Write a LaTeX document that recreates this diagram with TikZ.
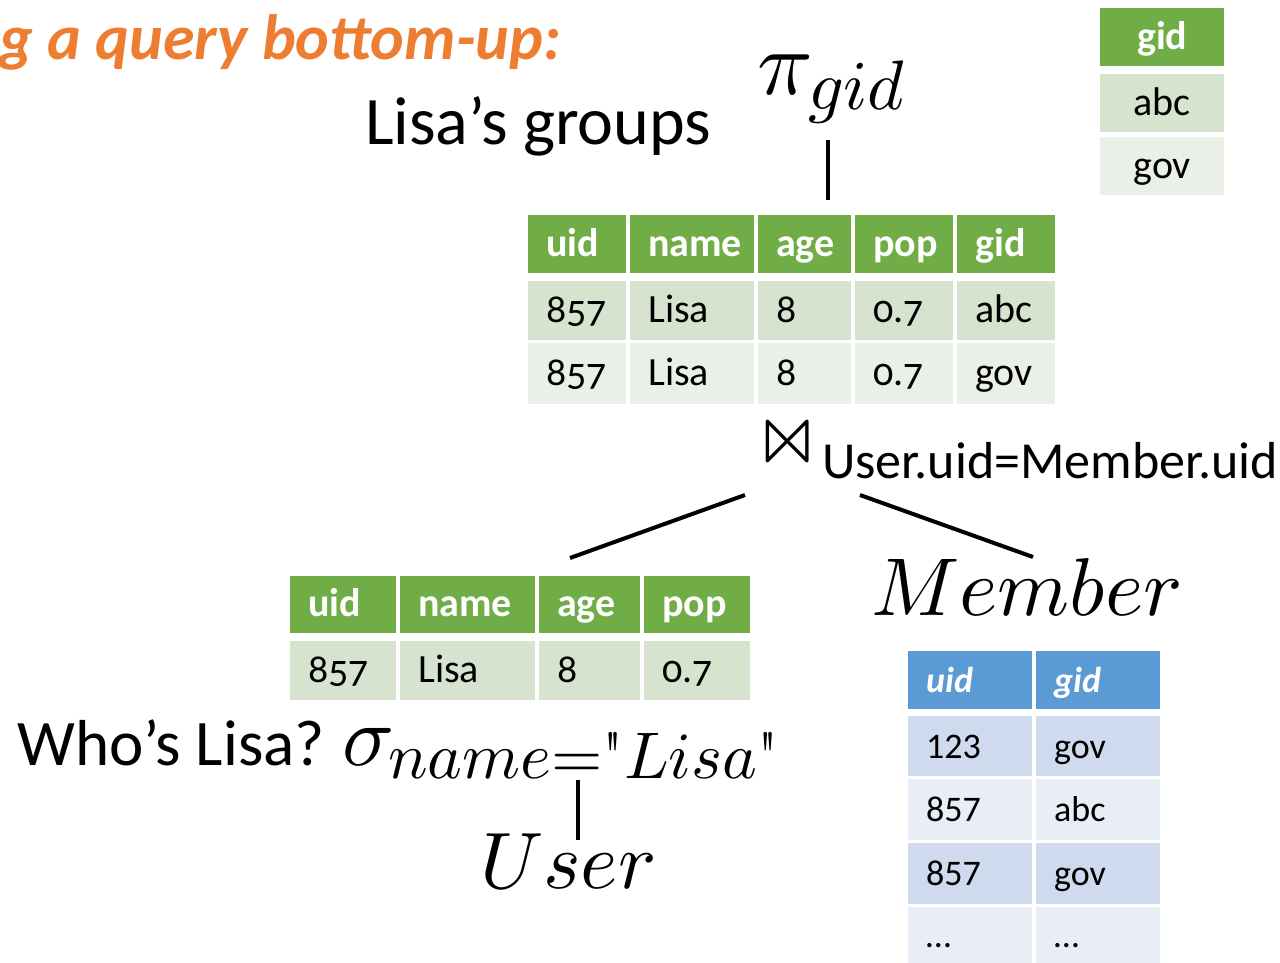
\documentclass[tikz,border=0pt]{standalone}
\usepackage{fontspec}
\usepackage{unicode-math}
\setmainfont{Carlito}
\setmathfont{Latin Modern Math}
\newfontfamily\oldfont{Carlito}[Numbers=OldStyle]
\newfontfamily\lmr{Latin Modern Roman}
\definecolor{ttl}{HTML}{ED7D31}
\definecolor{ghead}{HTML}{70AD47}
\definecolor{gone}{HTML}{D5E3CF}
\definecolor{gtwo}{HTML}{EAF0E8}
\definecolor{bhead}{HTML}{5B9BD5}
\definecolor{bone}{HTML}{CFDAEE}
\definecolor{btwo}{HTML}{E9EDF6}
\tikzset{
  cellbox/.style={anchor=north west, inner sep=0pt, draw=none},
  celltxt/.style={anchor=west, inner sep=0pt, text height=32pt, text depth=8pt},
  ghdr/.style={celltxt, text=white, font=\oldfont\fontsize{40}{44}\selectfont\bfseries},
  gdat/.style={celltxt, text=black, font=\oldfont\fontsize{40}{44}\selectfont},
  bhdr/.style={celltxt, text=white, font=\fontsize{36}{40}\selectfont\bfseries\itshape},
  bdat/.style={celltxt, text=black, font=\fontsize{36}{40}\selectfont},
  lbl/.style={anchor=base west, inner sep=0pt},
  conn/.style={line width=4pt, black},
}
% name, x, y, w, h, fill, text style, text
\newcommand\lcell[8]{%
  \node[cellbox, fill=#6, minimum width=#4pt, minimum height=#5pt] (#1) at (#2,#3) {};
  \node[#7, xshift=18pt] (#1-t) at (#1.west) {#8};}
\newcommand\ccell[8]{%
  \node[cellbox, fill=#6, minimum width=#4pt, minimum height=#5pt] (#1) at (#2,#3) {};
  \node[#7, anchor=center] (#1-t) at (#1.center) {#8};}
\begin{document}
\begin{tikzpicture}[x=1pt,y=-1pt]
\useasboundingbox (0,0) rectangle (1280,963);
\begin{scope}
\clip (0,0) rectangle (1280,963);
% title
\node[lbl, text=ttl, font=\fontsize{64}{70}\selectfont\bfseries\itshape] (title) at (-1,60) {g a query bottom-up:};
\end{scope}
% projection
\node[lbl, font=\fontsize{68}{74}\selectfont] (lisagroups) at (365,145) {Lisa’s groups};
\node[lbl] (pi) at (757,95) {\fontsize{92}{96}\selectfont$\pi$};
\node[lbl] (pisub) at (808,110) {\fontsize{70}{74}\selectfont$gid$};
\coordinate (piend) at (828,140);
\coordinate (jtop) at (828,200);
\draw[conn] (piend) -- (jtop);
% result table
\ccell{r0}{1100}{8}{124}{58}{ghead}{ghdr}{gid}
\ccell{r1}{1100}{74}{124}{58}{gone}{gdat}{abc}
\ccell{r2}{1100}{137}{124}{58}{gtwo}{gdat}{gov}
% join table
\lcell{ja0}{528}{215}{98}{58}{ghead}{ghdr}{uid}
\lcell{jb0}{630}{215}{124}{58}{ghead}{ghdr}{name}
\lcell{jc0}{758}{215}{93}{58}{ghead}{ghdr}{age}
\lcell{jd0}{855}{215}{98}{58}{ghead}{ghdr}{pop}
\lcell{je0}{957}{215}{98}{58}{ghead}{ghdr}{gid}
\lcell{ja1}{528}{281}{98}{59}{gone}{gdat}{857}
\lcell{jb1}{630}{281}{124}{59}{gone}{gdat}{Lisa}
\lcell{jc1}{758}{281}{93}{59}{gone}{gdat}{8}
\lcell{jd1}{855}{281}{98}{59}{gone}{gdat}{0.7}
\lcell{je1}{957}{281}{98}{59}{gone}{gdat}{abc}
\lcell{ja2}{528}{343}{98}{61}{gtwo}{gdat}{857}
\lcell{jb2}{630}{343}{124}{61}{gtwo}{gdat}{Lisa}
\lcell{jc2}{758}{343}{93}{61}{gtwo}{gdat}{8}
\lcell{jd2}{855}{343}{98}{61}{gtwo}{gdat}{0.7}
\lcell{je2}{957}{343}{98}{61}{gtwo}{gdat}{gov}
% join operator
\node[inner sep=0pt] (bowtie) at (788,441) {\fontsize{84}{88}\selectfont$\bowtie$};
\node[lbl, font=\fontsize{52}{56}\selectfont] (joincond) at (822,478) {User.uid=Member.uid};
\coordinate (jl) at (745,495);
\coordinate (jlend) at (570,558);
\coordinate (jr) at (860,495);
\coordinate (jrend) at (1033,557);
\draw[conn] (jl) -- (jlend);
\draw[conn] (jr) -- (jrend);
% Member
\node[lbl] (member) at (871,615) {\fontsize{82}{86}\selectfont$Member$};
% selection table
\lcell{sa0}{290}{576}{106}{57}{ghead}{ghdr}{uid}
\lcell{sb0}{400}{576}{135}{57}{ghead}{ghdr}{name}
\lcell{sc0}{539}{576}{101}{57}{ghead}{ghdr}{age}
\lcell{sd0}{644}{576}{106}{57}{ghead}{ghdr}{pop}
\lcell{sa1}{290}{641}{106}{59}{gone}{gdat}{857}
\lcell{sb1}{400}{641}{135}{59}{gone}{gdat}{Lisa}
\lcell{sc1}{539}{641}{101}{59}{gone}{gdat}{8}
\lcell{sd1}{644}{641}{106}{59}{gone}{gdat}{0.7}
% selection
\node[lbl, font=\fontsize{65}{70}\selectfont] (whos) at (17,765) {Who’s Lisa?};
\node[lbl] (sigma) at (342,765) {\fontsize{86}{90}\selectfont$\sigma$};
\node[lbl] (sigsub) at (388,778) {\fontsize{66}{70}\selectfont$name{=}\mbox{\lmr"}Lisa\mbox{\lmr"}$};
\coordinate (selend) at (578,780);
\coordinate (userend) at (578,840);
\draw[conn] (selend) -- (userend);
\node[lbl] (user) at (480,888) {\fontsize{80}{84}\selectfont$User$};
% Member table
\lcell{ma0}{908}{651}{124}{58}{bhead}{bhdr}{uid}
\lcell{mb0}{1036}{651}{124}{58}{bhead}{bhdr}{gid}
\lcell{ma1}{908}{716}{124}{60}{bone}{bdat}{123}
\lcell{mb1}{1036}{716}{124}{60}{bone}{bdat}{gov}
\lcell{ma2}{908}{779}{124}{61}{btwo}{bdat}{857}
\lcell{mb2}{1036}{779}{124}{61}{btwo}{bdat}{abc}
\lcell{ma3}{908}{843}{124}{61}{bone}{bdat}{857}
\lcell{mb3}{1036}{843}{124}{61}{bone}{bdat}{gov}
\lcell{ma4}{908}{907}{124}{56}{btwo}{bdat}{…}
\lcell{mb4}{1036}{907}{124}{56}{btwo}{bdat}{…}
\end{tikzpicture}
\end{document}
